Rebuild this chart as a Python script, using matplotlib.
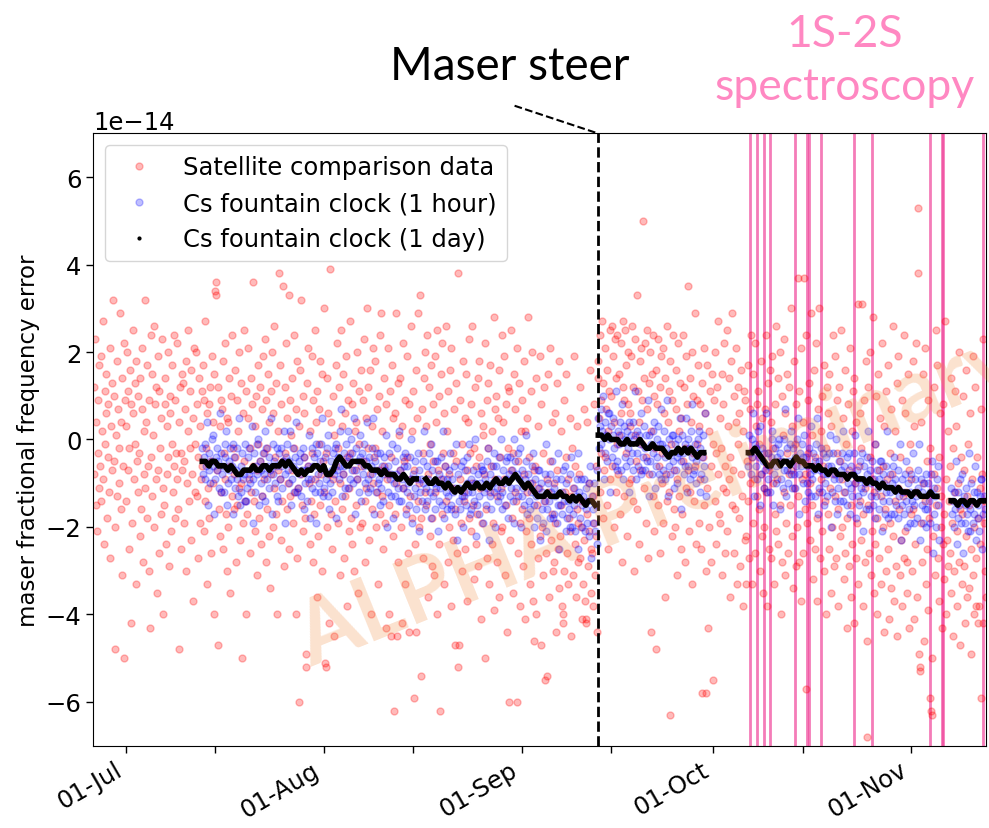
import numpy as np
import matplotlib
matplotlib.use("Agg")
import matplotlib.pyplot as plt
import matplotlib.dates as mdates
import matplotlib.transforms as mtransforms

# All values in units of 1e-15 (tenths of 1e-14), one text line per day.

# satellite comparison data, 10 samples per day from 26 Jun
SAT_JUN = """
12 -8 23 -15 4 -21 9 -3 17 -11
-6 19 -14 2 27 -9 -24 11 -1 6
15 -18 -4 8 -12 21 -27 3 13 -7
32 -5 10 -20 -48 1 18 -13 7 -2
-10 29 4 -16 14 -31 -6 22 -50 9
"""
SAT_JUL = """
3 -14 20 -7 11 -25 -2 16 -42 8
-19 6 25 -9 -1 13 -33 18 -5 -12
10 -3 -22 14 -16 7 21 -28 -8 2
32 -11 4 -18 17 -6 -30 9 -43 24
-4 15 -13 1 26 -20 8 -9 12 -35
19 -7 -26 11 -2 5 -17 23 -11 -40
-15 8 14 -24 3 -8 20 -4 -29 10
6 -21 -1 17 -12 24 -6 -18 9 -3
-9 22 -16 4 -48 12 -3 -25 15 -7
13 -5 -19 7 -30 18 -10 2 25 -14
-2 11 -23 16 -8 -37 5 21 -12 -1
20 -13 8 -27 -4 14 -19 3 -9 11
-6 17 -21 9 -14 27 -2 -33 6 -11
8 -18 12 -5 -26 19 -10 4 -40 15
34 36 33 -7 -47 12 -16 3 -22 9
-12 7 -25 18 -3 -9 22 -17 5 -30
4 -20 14 -6 -35 10 -13 24 -2 -16
-8 16 -4 -28 9 -15 2 20 -11 -23
13 -10 -50 6 -19 25 -5 -14 11 -40
-17 5 21 -9 -2 -26 14 -12 8 -6
36 -14 3 -21 10 -7 -31 17 -1 -18
-5 12 -24 7 -13 19 -9 -3 23 -28
9 -16 -2 15 -22 4 -34 11 -8 20
-20 6 -11 26 -4 -17 13 -40 2 -7
38 -9 17 -23 8 -14 35 -5 -29 12
-3 22 -16 5 -10 33 -25 9 -13 1
14 -7 -19 24 -2 -12 7 -40 18 -27
-11 3 -60 16 -8 32 -15 10 -21 -4
6 -18 -49 -52 13 -6 21 -10 2 -24
-14 19 -3 -28 9 -17 25 -9 4 -36
11 -22 7 -1 -15 18 -8 -30 15 -5
"""
SAT_AUG = """
30 -12 -51 -52 -3 14 -20 6 -42 -8
39 -17 4 -25 10 -9 -45 1 -14 17
-6 22 -19 -2 12 -31 -10 25 -16 3
15 -8 -27 6 -13 19 -4 -38 9 -21
-11 27 -3 -18 8 -24 13 -7 -30 2
4 -15 20 -9 -35 11 -1 -20 16 -6
-19 9 -5 23 -14 -28 5 -11 30 -2
12 -23 -8 16 -40 3 -16 21 -10 -4
-2 18 -20 7 -12 -33 10 -7 24 -17
29 -13 2 -25 14 -6 -19 8 -43 -9
-8 21 -40 -15 11 -4 -45 17 -22 5
-62 6 -17 29 -10 -45 13 -28 1 -7
14 -20 -42 3 -11 22 -5 -33 9 -16
-4 19 -26 -44 8 -13 26 -9 -18 2
11 -7 -59 -24 16 -44 5 -14 29 -20
-10 33 -18 -54 7 -3 -27 14 -12 20
3 -15 24 -8 -36 12 -22 -1 17 -29
-18 8 -5 -31 19 -12 4 -40 25 -7
10 -24 -62 15 -9 -17 22 -3 -33 6
-6 26 -14 2 -28 11 -20 -8 16 -38
21 -11 -3 -23 7 -16 -47 13 -5 -26
38 -52 -47 -9 9 -19 -1 -30 18 -12
-14 5 -25 15 -7 -37 4 -18 23 -3
8 -21 -10 26 -15 -2 -32 12 -24 -6
-17 14 -29 -4 18 -11 -41 6 -19 1
3 -8 22 -50 -16 9 -27 -2 13 -33
-12 17 -6 -24 2 -19 28 -39 -9 7
10 -28 -13 5 -36 16 -4 -21 -11 24
-20 4 -9 19 -31 -15 8 -44 -2 12
-60 11 -23 -7 25 -18 -3 -35 15 -12
7 -14 -60 21 -26 -5 13 -19 -38 2
"""
SAT_SEP = """
-16 9 -29 18 -8 -41 2 -21 -12 5
28 -18 -4 -33 11 -24 -10 20 -37 -7
-46 -6 14 -40 -15 3 -27 -11 19 -22
8 -47 -20 -3 -31 12 -14 -55 -26 -9
-54 15 -12 -36 -5 21 -23 -17 4 -30
-10 -28 6 -19 -44 13 -7 -25 -34 18
-22 2 -15 -38 -40 -42 9 -30 -12 -4
15 -26 -9 -33 -18 5 -21 -45 -13 -2
-31 -11 19 -24 -6 -36 -16 3 -28 -19
-8 -27 12 -20 -41 -14 -33 7 -23 -37
-41 -42 -17 4 -29 -21 -10 16 -35 -25
-26 -13 -38 8 -19 -31 -6 -22 -44 14
18 5 -12 24 9 -3 27 -18 13 -7
-4 21 7 -15 16 2 -25 11 25 -9
10 26 -6 19 -20 4 23 -12 14 -1
24 -8 15 1 -17 22 6 -28 12 27
-13 9 25 -3 17 -22 8 20 -10 3
6 19 -9 26 -14 12 -30 23 1 -5
33 -16 11 4 -24 18 -7 21 -1 9
50 14 -11 22 -4 -19 7 25 -27 13
-8 20 2 -44 15 -13 24 -21 10 -2
16 -48 8 -15 23 -6 -26 12 19 -10
-3 21 -19 6 -36 14 -8 26 -14 4
11 -12 -63 18 -1 -22 9 24 -7 -16
-20 7 16 -9 -31 22 2 -13 13 -25
5 -17 24 -5 12 -28 -2 19 -11 8
35 -7 -21 14 -12 4 -33 20 -3 10
-14 29 -6 -24 9 -1 17 -19 3 -9
8 -25 13 -58 -4 21 -15 6 -30 -58
-11 17 -43 2 -20 11 -6 -28 15 -1
"""
SAT_OCT = """
-55 9 -14 20 -3 -24 12 -8 27 -17
5 -19 -2 15 -31 8 -11 22 -6 -26
-12 25 -21 3 -9 14 -36 -4 18 -15
29 -7 10 -26 -16 4 21 -33 -1 12
-18 6 -29 16 -8 -13 2 -38 11 -23
9 -22 -33 -5 17 -14 -27 7 -10 24
-33 -4 15 -19 -9 22 -26 3 -13 8
11 -16 -1 -30 18 -8 -22 5 -35 -11
-20 7 -12 24 -38 -3 13 -25 -7 16
4 -27 19 -10 -2 -33 8 -17 26 -21
-9 14 -24 -5 20 -15 -40 10 -28 1
23 -12 -31 6 -19 15 -3 -26 -8 12
-15 30 -7 -22 3 -34 18 -11 -1 -29
8 -20 37 -13 -28 11 -5 -37 21 -9
-26 4 37 -16 -8 24 -57 -19 9 -3
13 -10 -23 29 -15 1 -32 16 -6 -25
-4 22 -18 -37 7 -12 30 -27 -9 2
-21 10 -6 -30 17 -14 -2 -40 12 -17
6 -25 15 -11 -35 3 -20 24 -8 -29
-13 19 -27 -3 9 -38 -16 12 -22 -5
25 -9 -20 5 -32 -12 16 -26 -1 -43
-18 8 -29 -7 21 -15 -36 2 -24 11
-42 14 -10 -27 4 -19 31 -33 -6 -14
6 -23 -2 31 -17 -38 9 -28 -11 18
-46 -68 -15 12 -26 -4 20 -31 -9 -21
28 -12 -35 -1 -24 10 -18 -40 15 -7
-27 5 -13 -33 22 -20 -6 -44 3 -16
11 -30 -9 17 -25 -41 -3 -19 7 -34
-8 -22 26 -37 -14 2 -29 13 -45 -11
19 -16 -31 -4 -23 9 -38 -13 24 -27
-21 6 -12 -35 -28 15 -7 -43 -1 -17
"""
SAT_NOV = """
-9 -30 18 -16 -41 3 -24 -12 22 -36
53 38 -49 -52 -53 -19 4 -28 -10 15
-46 -14 21 -33 -5 -25 9 -39 -18 -2
-59 -62 -63 -50 -22 12 -8 -31 25 -15
-11 17 -27 -4 -37 6 -20 -13 -43 -24
8 -32 -17 27 -9 -40 -23 2 -29 -14
-26 -6 -35 14 -19 -45 -2 -30 11 -12
3 -21 -38 -10 20 -28 -16 -47 -4 -33
-17 10 -29 -7 -42 -22 16 -36 -13 -1
-34 -15 6 -25 -49 -9 -31 19 -20 -40
12 -27 -38 -4 -18 -42 -38 -11 -24 7
-59 -8 -42 23 -19 -30 -14 -36 1 -25
"""

# Cs fountain clock, 1 hour points (8 per day shown)
CS_HOUR_A = """
-2 -8 -4 -9 -1 -6 4 -15
-7 -3 -10 -5 0 -6 1 -17
-9 -4 -2 -7 -5 -11 6 -12
-3 -8 -6 -12 -4 -1 2 -15
-10 -5 -7 -2 -9 -6 -1 -17
-4 -11 -7 -9 -2 -13 5 -15
-6 -12 -3 -9 -8 -14 -1 -14
-11 -4 -8 -2 -10 -7 3 -19
-9 -3 -12 -6 -1 -8 0 -15
-5 -10 -7 -13 -3 -8 2 -14
-2 -9 -6 -11 -4 -7 5 -17
-8 -1 -5 -10 -6 -13 -2 -14
-3 -9 -6 -2 -11 -5 2 -19
-8 -4 -1 -7 -10 -5 2 -15
-9 -2 -6 -12 -4 -7 4 -12
-11 -5 -8 -3 -13 -7 -2 -16
-4 -10 -7 -14 -6 -9 1 -18
-9 -2 -11 -6 -4 -12 -1 -19
-3 -8 -10 -5 -12 -1 5 -13
-7 -11 -4 -9 -2 -13 1 -16
-10 -5 -12 -7 -3 -8 -2 -18
-1 -7 -4 -9 2 -6 7 -13
-8 -3 -6 -11 -1 -5 2 -11
-4 -9 0 -7 -3 -10 5 -17
-7 -2 -9 -5 -12 -4 1 -14
-3 -8 -1 -6 -10 -5 4 -12
-9 -4 -11 -6 -2 -8 5 -17
-5 -12 -7 -3 -10 -9 -3 -15
-11 -6 -14 -8 -4 -7 1 -20
-6 -12 -3 -9 -13 -8 -1 -18
-10 -5 -13 -8 -2 -11 2 -14
-7 -14 -9 -4 -11 -6 -3 -17
-12 -6 -10 -15 -4 -9 0 -19
-8 -13 -5 -11 -16 -9 -3 -21
-7 -12 -9 -14 -5 -10 2 -16
-11 -6 -14 -9 -3 -12 -1 -18
-7 -13 -10 -16 -5 -11 -5 -21
-14 -8 -11 -4 -15 -9 2 -18
-6 -12 -16 -9 -13 -7 -3 -16
-15 -9 -12 -6 -17 -11 -1 -23
-8 -14 -11 -16 -6 -13 -5 -20
-13 -7 -15 -10 -4 -12 -1 -17
-9 -16 -12 -7 -14 -10 0 -22
-15 -8 -13 -17 -10 -6 -7 -19
-7 -12 -9 -15 -5 -11 -2 -23
-13 -8 -16 -10 -6 -12 -3 -20
-6 -11 -14 -9 -4 -13 0 -16
-12 -7 -10 -15 -5 -9 -4 -18
-8 -13 -4 -11 -7 -14 0 -19
-5 -11 -8 -13 -3 -9 -2 -20
-13 -7 -11 -15 -9 -5 1 -17
-8 -14 -10 -16 -12 -6 -3 -20
-15 -9 -13 -18 -11 -7 -7 -23
-10 -16 -12 -19 -14 -8 -1 -21
-16 -10 -14 -8 -18 -12 -5 -18
-11 -17 -13 -9 -19 -15 -3 -25
-15 -9 -17 -12 -7 -14 -6 -21
-10 -18 -14 -16 -8 -20 -4 -20
-17 -11 -15 -21 -13 -9 -3 -25
-12 -18 -9 -15 -20 -13 -9 -21
-16 -11 -19 -14 -22 -10 -6 -27
-13 -19 -16 -10 -21 -15 -7 -24
"""
CS_HOUR_B = """
5 -2 3 7 -1 2 10 -9
-3 4 1 -5 6 0 6 -12
3 -4 1 5 -2 -6 11 -7
-5 2 -1 4 -7 1 8 -9
3 -4 0 -6 2 -2 4 -12
-5 1 -3 4 -7 0 11 -9
2 -3 -6 1 -1 -8 6 -7
-4 3 -2 -7 1 -5 9 -13
1 -5 -1 -8 2 -3 4 -11
-6 0 -4 3 -8 -1 7 -9
-1 -7 2 -4 -9 -2 9 -13
-6 0 -8 -3 1 -5 1 -11
-1 -7 -4 -10 0 -3 5 -16
-5 1 -3 -8 -1 -6 5 -12
0 -6 -2 -9 2 -4 8 -8
-7 -1 -5 -10 -3 0 2 -12
-2 -8 -4 1 -6 -9 6 -13
"""
CS_HOUR_C = """
-6 1 -3 -8 0 -4 6 -13
-1 -6 -2 -9 2 -4 3 -15
-8 -2 -5 -11 -3 -7 6 -12
-3 -9 -6 -12 -4 0 2 -15
-8 -2 -6 -10 -4 -1 0 -16
-3 -9 -5 -11 0 -7 7 -13
-7 -2 -10 -5 -1 -8 2 -11
-2 -8 -4 -11 -6 0 5 -17
-8 -3 -6 -1 -10 -4 1 -14
-4 -10 -6 -12 -2 -8 3 -13
-9 -3 -7 -13 -5 -1 5 -17
-5 -11 -7 -2 -12 -8 -3 -15
-10 -4 -8 -13 -6 -3 1 -20
-6 -12 -3 -9 -14 -8 0 -17
-11 -5 -9 -14 -7 -3 2 -14
-6 -12 -8 -15 -4 -10 -3 -17
-11 -6 -13 -8 -3 -10 1 -18
-7 -13 -9 -15 -5 -11 -3 -21
-12 -6 -10 -16 -8 -4 2 -16
-7 -13 -10 -5 -15 -9 -1 -18
-13 -7 -11 -16 -9 -5 -5 -21
-8 -14 -10 -17 -6 -12 2 -18
-14 -8 -12 -17 -10 -6 -4 -17
-9 -15 -11 -18 -7 -13 -1 -23
-15 -9 -12 -17 -8 -14 -5 -20
-10 -16 -12 -19 -8 -14 -3 -19
-15 -9 -13 -18 -11 -7 -1 -23
-9 -15 -12 -19 -10 -16 -8 -20
-16 -10 -14 -19 -12 -8 -5 -26
-11 -17 -13 -20 -9 -15 -6 -23
"""
CS_HOUR_D = """
-11 -17 -14 -20 -12 -16 -5 -24
-18 -12 -15 -9 -19 -14 -8 -26
-13 -19 -15 -11 -17 -21 -3 -21
-16 -10 -14 -19 -12 -17 -6 -23
-12 -18 -15 -21 -13 -9 -9 -25
-17 -13 -16
"""

# Cs fountain clock, 1 day average (2 points per day)
CS_DAY_A = """
-5 -5
-6 -5
-5 -6
-6 -6
-7 -6
-7 -8
-8 -7
-7 -7
-6 -7
-7 -6
-6 -7
-6 -6
-6 -5
-6 -5
-6 -7
-8 -7
-8 -7
-7 -6
-6 -7
-6 -8
-8 -7
-5 -4
-5 -6
-6 -5
-5 -5
-5 -6
-6 -7
-7 -7
-8 -7
-8 -8
-8 -9
-9 -8
-9 -10
-9 -9
nan nan
-9 -10
-10 -9
-10 -10
-11 -10
-11 -12
-11 -12
-11 -10
-11 -11
-10 -11
-11 -10
-11 -10
-9 -10
-10 -9
-10 -9
-8 -9
-10 -11
-10 -11
-12 -13
-13 -13
-12 -13
-13 -13
-12 -13
-13 -14
-13 -14
-13 -14
-15 -14
-14 -15
"""
CS_DAY_B = """
1 1
0 1
0 0
0 -1
-1 0
-1 -1
-1 0
-1 -2
-2 -1
-2 -2
-2 -3
-4 -3
-3 -2
-3 -2
-3 -2
-3 -4
-3 -3
"""
CS_DAY_C = """
-3 -3
-2 -3
-4 -5
-6 -6
-5 -5
-6 -5
-5 -6
-5 -4
-5 -5
-6 -6
-6 -7
-6 -7
-7 -8
-7 -7
-8 -8
-8 -9
-8 -8
-9 -9
-9 -10
-9 -10
-10 -11
-10 -11
-11 -11
-12 -11
-12 -12
-12 -13
-12 -12
-13 -13
-13 -12
-13 -13
"""
CS_DAY_D = """
-14 -14
-15 -14
-14 -15
-14 -14
-15 -14
-14 -14
"""

# segment start times
SAT_START = "2018-06-26T00:00"
HOUR_STARTS = ["2018-07-13T00:00", "2018-09-13T00:00", "2018-10-06T12:00", "2018-11-07T06:00"]
MASER_STEER = "2018-09-12T21:30"
SPECTROSCOPY_RUNS = [
    "2018-10-06T19:00", "2018-10-07T21:00", "2018-10-08T21:00", "2018-10-09T20:00",
    "2018-10-13T18:00", "2018-10-15T18:00", "2018-10-15T22:00", "2018-10-17T20:00",
    "2018-10-23T01:00", "2018-10-25T21:00", "2018-11-03T22:00", "2018-11-05T21:00",
    "2018-11-06T01:00", "2018-11-12T04:00",
]
X_RANGE = ("2018-06-25T22:20", "2018-11-12T16:40")


def daily(block, start, per_day):
    step = np.timedelta64(24 * 60 // per_day, "m")
    day0 = np.datetime64(start, "m")
    ts, vs = [], []
    for i, line in enumerate(block.strip().splitlines()):
        vals = [float(v) for v in line.split()]
        t0 = day0 + np.timedelta64(i, "D")
        ts.extend(t0 + step * np.arange(len(vals)))
        vs.extend(vals)
    return np.array(ts, dtype="datetime64[m]"), np.array(vs) * 1e-15


fig = plt.figure(figsize=(9.89, 8.29), dpi=100)
ax = fig.add_axes([0.0943, 0.0993, 0.9026, 0.7387])

sat_block = "\n".join(b.strip() for b in [SAT_JUN, SAT_JUL, SAT_AUG, SAT_SEP, SAT_OCT, SAT_NOV])
t_sat, y_sat = daily(sat_block, SAT_START, 10)
ax.plot(t_sat, y_sat, "o", color="red", alpha=0.27, ms=5,
        label="Satellite comparison data", zorder=2)

for i, (hour, day, start) in enumerate(zip([CS_HOUR_A, CS_HOUR_B, CS_HOUR_C, CS_HOUR_D],
                                           [CS_DAY_A, CS_DAY_B, CS_DAY_C, CS_DAY_D],
                                           HOUR_STARTS)):
    th, yh = daily(hour, start, 8)
    ax.plot(th, yh, "o", color="blue", alpha=0.25, ms=5, zorder=2.1,
            label="Cs fountain clock (1 hour)" if i == 0 else None)
    td, yd = daily(day, start, 2)
    ax.plot(td, yd, "-", color="black", lw=4, zorder=2.3)
    ax.plot(td, yd, ".", color="black", ms=4, zorder=2.3,
            label="Cs fountain clock (1 day)" if i == 0 else None)

for run in SPECTROSCOPY_RUNS:
    ax.axvline(np.datetime64(run), color="#f0449a", lw=2, alpha=0.7, zorder=1)

steer = np.datetime64(MASER_STEER)
ax.axvline(steer, color="black", ls="--", lw=2, zorder=3)
trans = mtransforms.blended_transform_factory(ax.transData, ax.transAxes)
ax.plot([steer - np.timedelta64(13 * 24, "h"), steer], [1.045, 1.0], transform=trans,
        color="black", ls="--", lw=1.5, clip_on=False)

ax.set_xlim(np.datetime64(X_RANGE[0]), np.datetime64(X_RANGE[1]))
ax.set_ylim(-7e-14, 7e-14)
ax.set_yticks(np.arange(-6, 7, 2) * 1e-14)
ax.xaxis.set_major_locator(mdates.MonthLocator())
ax.xaxis.set_major_formatter(mdates.DateFormatter("%d-%b"))
ax.xaxis.set_minor_locator(mdates.DayLocator(bymonthday=15))
ax.tick_params(which="both", length=5, width=1, labelsize=17.5)
ax.yaxis.get_offset_text().set_fontsize(17.5)
for lab in ax.get_xticklabels():
    lab.set_rotation(30)
    lab.set_ha("right")
ax.set_ylabel("maser fractional frequency error", fontsize=16.5)

ax.legend(loc="upper left", fontsize=17.5)

fig.text(0.515, 0.9035, "Maser steer", ha="center", va="baseline",
         fontsize=33, family="Lato")
fig.text(0.8544, 0.9433, "1S-2S", ha="center", va="baseline",
         fontsize=32, family="Lato", color="#ff88c2")
fig.text(0.8544, 0.8794, "spectroscopy", ha="center", va="baseline",
         fontsize=32, family="Lato", color="#ff88c2")

# watermark across the plot
fig.text(0.664, 0.398, "ALPHA Preliminary", ha="center", va="center", rotation=22,
         rotation_mode="anchor", fontsize=64, fontweight="bold", family="Lato",
         color="#f08a40", alpha=0.25)

fig.savefig("out.png", dpi=100)
